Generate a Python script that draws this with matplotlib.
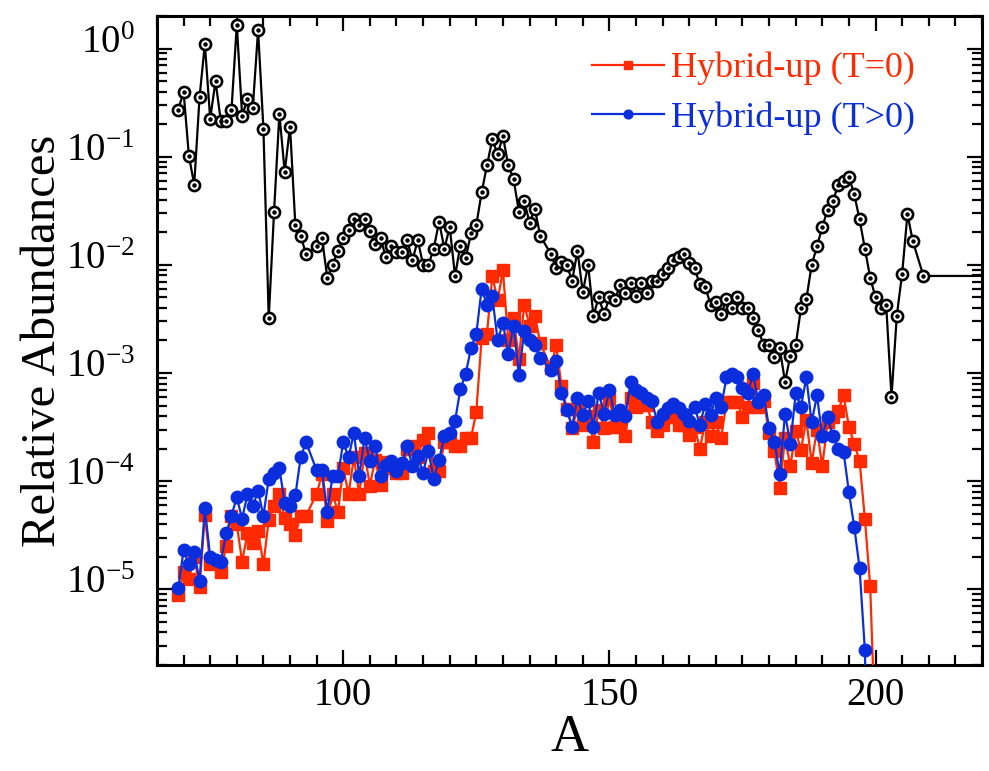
import numpy as np
import matplotlib
matplotlib.use('Agg')
import matplotlib.pyplot as plt
import matplotlib.transforms as mtransforms
from matplotlib.ticker import LogLocator, MultipleLocator, NullFormatter

# Observed abundances (black, circle with dot)
A_obs = [69, 70, 71, 72, 73, 74, 75, 76, 77, 78, 79, 80, 81, 82, 83, 84, 85, 86, 87, 88,
         89, 90, 91, 92, 93, 95, 96, 97, 98, 99, 100, 101, 102, 103, 104, 105, 106, 107,
         108, 109, 110, 111, 112, 113, 114, 115, 116, 117, 118, 119, 120, 121, 122, 123,
         124, 125, 126, 127, 128, 129, 130, 131, 132, 133, 134, 135, 136, 137, 139, 140,
         141, 142, 143, 144, 145, 146, 147, 148, 149, 150, 151, 152, 153, 154, 155, 156,
         157, 158, 159, 160, 161, 162, 163, 164, 165, 166, 167, 168, 169, 170, 171, 172,
         173, 174, 175, 176, 177, 178, 179, 180, 181, 182, 183, 184, 185, 186, 187, 188,
         189, 190, 191, 192, 193, 194, 195, 196, 197, 198, 199, 200, 201, 202, 203, 204,
         205, 206, 207, 209, 225]
Y_obs = [0.27, 0.40, 0.102, 0.055, 0.355, 1.10, 0.224, 0.50, 0.214, 0.214, 0.27, 1.66,
         0.24, 0.34, 0.28, 1.48, 0.182, 3.2e-3, 0.031, 0.25, 0.072, 0.19, 0.0234, 0.0186,
         0.0126, 0.0148, 0.0178, 7.6e-3, 0.010, 0.0135, 0.0178, 0.0209, 0.0263, 0.0234,
         0.0263, 0.0204, 0.0155, 0.0178, 0.0117, 0.0148, 0.0132, 0.0132, 0.0170, 0.011,
         0.0170, 0.010, 0.010, 0.0141, 0.0251, 0.0141, 0.0224, 7.9e-3, 0.0151, 0.0115,
         0.0195, 0.0234, 0.0468, 0.083, 0.145, 0.105, 0.155, 0.083, 0.062, 0.031, 0.039,
         0.0245, 0.033, 0.0186, 0.0126, 9.3e-3, 0.0107, 0.010, 7.1e-3, 0.0135, 5.6e-3,
         0.010, 3.4e-3, 5.0e-3, 3.5e-3, 5.0e-3, 4.7e-3, 6.5e-3, 5.5e-3, 6.8e-3, 5.2e-3,
         6.8e-3, 5.5e-3, 7.1e-3, 7.1e-3, 8.3e-3, 9.3e-3, 0.0112, 0.0117, 0.0126, 0.0105,
         9.3e-3, 6.6e-3, 6.3e-3, 4.3e-3, 4.5e-3, 3.5e-3, 4.8e-3, 4.0e-3, 5.0e-3, 4.0e-3,
         4.0e-3, 3.2e-3, 2.5e-3, 1.8e-3, 1.8e-3, 1.4e-3, 1.7e-3, 8.3e-4, 1.45e-3, 1.8e-3,
         4.0e-3, 4.8e-3, 0.010, 0.0148, 0.0224, 0.0324, 0.039, 0.055, 0.060, 0.065, 0.045,
         0.0263, 0.0141, 7.6e-3, 5.0e-3, 4.0e-3, 4.3e-3, 6.0e-4, 3.4e-3, 8.3e-3, 0.0295,
         0.0166, 7.9e-3, 7.9e-3]

# Model mass numbers (A = 94 and 138 absent)
A_mod = np.r_[69:94, 95:138, 139:201]

Y_T0 = [8.9e-6, 1.45e-5, 1.26e-5, 2.0e-5, 1.05e-5, 4.9e-5, 1.7e-5, 1.74e-5, 1.45e-5, 2.5e-5,
        4.8e-5, 4.0e-5, 1.8e-5, 3.3e-5, 2.7e-5, 3.5e-5, 1.7e-5, 4.4e-5, 5.9e-5, 7.6e-5,
        4.6e-5, 4.0e-5, 3.2e-5, 4.8e-5, 4.8e-5,
        7.6e-5, 1.17e-4, 4.3e-5, 7.6e-5, 5.2e-5, 1.32e-4, 7.6e-5, 1.66e-4, 7.6e-5, 1.82e-4,
        9.1e-5, 1.58e-4, 9.3e-5, 1.51e-4, 1.32e-4, 1.2e-4, 1.2e-4, 2.0e-4, 2.1e-4, 1.66e-4,
        2.4e-4, 2.8e-4, 1.23e-4, 1.23e-4, 2.3e-4, 2.3e-4, 2.1e-4, 2.1e-4, 2.5e-4, 2.5e-4,
        4.4e-4, 2.1e-3, 2.3e-3, 7.9e-3, 4.7e-3, 8.9e-3, 2.0e-3, 3.2e-3, 1.35e-3, 4.3e-3,
        2.75e-3, 3.4e-3, 1.9e-3,
        1.12e-3, 1.8e-3, 7.6e-4, 4.7e-4, 3.1e-4, 4.7e-4, 3.3e-4, 4.0e-4, 2.3e-4, 4.6e-4,
        3.1e-4, 5.8e-4, 3.2e-4, 3.2e-4, 2.6e-4, 5.9e-4, 4.9e-4, 5.1e-4, 5.1e-4, 3.5e-4,
        2.9e-4, 3.3e-4, 3.9e-4, 3.9e-4, 3.3e-4, 3.3e-4, 2.7e-4, 3.2e-4, 2.0e-4, 3.5e-4,
        2.6e-4, 3.5e-4, 2.5e-4, 5.4e-4, 5.4e-4, 5.4e-4, 3.9e-4, 4.9e-4, 8.1e-4, 4.9e-4,
        5.5e-4, 2.8e-4, 1.9e-4, 8.7e-5, 2.5e-4, 1.38e-4, 2.9e-4, 1.95e-4, 3.7e-4, 1.48e-4,
        3.0e-4, 1.38e-4, 3.5e-4, 3.9e-4, 4.5e-4, 6.2e-4, 3.2e-4, 2.2e-4, 1.55e-4, 4.5e-5,
        1.07e-5, 4e-7]

Y_T1 = [1.02e-5, 2.3e-5, 1.7e-5, 2.2e-5, 1.2e-5, 5.6e-5, 2.0e-5, 1.86e-5, 1.8e-5, 3.3e-5,
        4.8e-5, 7.1e-5, 4.5e-5, 7.6e-5, 5.9e-5, 8.1e-5, 4.8e-5, 1.05e-4, 1.2e-4, 1.32e-4,
        6.3e-5, 5.9e-5, 7.4e-5, 1.66e-4, 2.3e-4,
        1.26e-4, 1.26e-4, 5.2e-5, 1.12e-4, 1.12e-4, 2.3e-4, 1.66e-4, 2.8e-4, 1.12e-4, 2.5e-4,
        1.55e-4, 2.1e-4, 1.12e-4, 1.41e-4, 1.55e-4, 1.23e-4, 1.48e-4, 2.1e-4, 1.38e-4, 1.7e-4,
        1.2e-4, 1.9e-4, 1.05e-4, 1.58e-4, 2.6e-4, 2.8e-4, 3.6e-4, 7.1e-4, 9.8e-4, 1.7e-3,
        2.3e-3, 6.0e-3, 4.3e-3, 5.1e-3, 2.0e-3, 2.9e-3, 1.5e-3, 2.75e-3, 9.5e-4, 2.45e-3,
        2.0e-3, 1.8e-3, 1.38e-3,
        1.07e-3, 1.29e-3, 6.6e-4, 4.6e-4, 3.2e-4, 5.9e-4, 4.1e-4, 5.5e-4, 3.2e-4, 6.6e-4,
        4.2e-4, 6.9e-4, 4.1e-4, 4.6e-4, 4.0e-4, 8.3e-4, 6.9e-4, 6.5e-4, 5.9e-4, 5.5e-4,
        3.5e-4, 4.2e-4, 4.8e-4, 5.2e-4, 4.8e-4, 4.2e-4, 3.6e-4, 4.9e-4, 3.3e-4, 5.2e-4,
        4.1e-4, 5.9e-4, 4.9e-4, 9.1e-4, 9.8e-4, 9.1e-4, 7.2e-4, 6.5e-4, 9.8e-4, 5.4e-4,
        6.3e-4, 3.1e-4, 2.3e-4, 1.17e-4, 4.2e-4, 2.2e-4, 6.5e-4, 4.9e-4, 9.1e-4, 3.5e-4,
        6.2e-4, 2.6e-4, 3.9e-4, 2.6e-4, 2.0e-4, 1.86e-4, 7.9e-5, 3.8e-5, 1.58e-5, 2.75e-6,
        1e-8, 1e-9]

labels = ['Hybrid-up (T=0)', 'Hybrid-up (T>0)']
y_ticks = [1e-5, 1e-4, 1e-3, 1e-2, 1e-1, 1]
y_ticklabels = ['$10^{-5}$', '$10^{-4}$', '$10^{-3}$', '$10^{-2}$', '$10^{-1}$', '$10^{0}$']
RED = '#ff2a00'
BLUE = '#0a2ede'

plt.rcParams['font.family'] = 'Liberation Serif'
plt.rcParams['mathtext.fontset'] = 'custom'
plt.rcParams['mathtext.rm'] = 'Liberation Serif'
plt.rcParams['mathtext.it'] = 'Liberation Serif:italic'
plt.rcParams['axes.linewidth'] = 2.2

fig = plt.figure(figsize=(9.89, 7.71), dpi=100)
ax = fig.add_axes([0.1587, 0.1375, 0.8342, 0.8418])

# observed: open circles with a dot in the middle
ax.plot(A_obs, Y_obs, '-', color='black', lw=1.6, marker='o', ms=8, mfc='white',
        mec='black', mew=1.9, zorder=3)
ax.plot(A_obs, Y_obs, 'o', color='black', ms=2.2, zorder=4)

ax.plot(A_mod, Y_T0, '-', color=RED, lw=1.6, marker='s', ms=8.5, mec=RED, mfc=RED,
        label=labels[0], zorder=5)
ax.plot(A_mod, Y_T1, '-', color=BLUE, lw=1.6, marker='o', ms=9, mec=BLUE, mfc=BLUE,
        label=labels[1], zorder=6)

ax.set_yscale('log')
ax.set_xlim(65, 220)
ax.set_ylim(2e-6, 2)

ax.xaxis.set_major_locator(MultipleLocator(50))
ax.xaxis.set_minor_locator(MultipleLocator(5))
ax.set_yticks(y_ticks)
ax.set_yticklabels(y_ticklabels)
ax.yaxis.set_minor_locator(LogLocator(base=10, subs=np.arange(2, 10), numticks=12))
ax.yaxis.set_minor_formatter(NullFormatter())

ax.tick_params(which='both', direction='in', top=True, right=True, width=1.6)
ax.tick_params(which='major', length=11)
ax.tick_params(which='minor', length=7)
ax.tick_params(axis='x', which='major', labelsize=28, pad=9)
ax.tick_params(axis='y', which='major', labelsize=28, pad=16)

# y tick labels sit a bit above their ticks in the original
shift = mtransforms.ScaledTranslation(0, 10 / 100, fig.dpi_scale_trans)
for lab in ax.get_yticklabels():
    lab.set_transform(lab.get_transform() + shift)

ax.set_xlabel('A', fontsize=38, labelpad=0)
ax.set_ylabel('Relative Abundances', fontsize=35)
ax.yaxis.set_label_coords(-0.111, 0.5)

leg = ax.legend(loc='upper left', bbox_to_anchor=(0.527, 0.945), frameon=False,
                fontsize=26, handlelength=2.0, handletextpad=0.2, labelspacing=0.45,
                borderpad=0, borderaxespad=0, markerscale=0.7)
for txt, c in zip(leg.get_texts(), [RED, BLUE]):
    txt.set_color(c)

fig.savefig('out.png', dpi=100)
